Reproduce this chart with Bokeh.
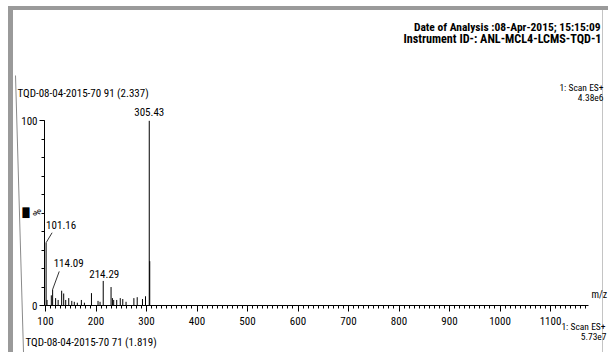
import math
from bokeh.plotting import figure
from bokeh.models import Range1d, FixedTicker, Label, ColumnDataSource, LinearAxis
from bokeh.embed import file_html
from bokeh.resources import INLINE

# ---------------- data ----------------
peak_mz = [101.16, 103.0, 111.5, 114.09, 120.0, 125.0, 132.0, 136.0, 140.0, 146.0,
           152.0, 157.0, 163.0, 171.0, 177.0, 191.0, 204.0, 208.0, 214.29, 229.8,
           232.5, 235.0, 241.0, 248.0, 253.0, 259.5, 275.0, 281.6, 292.0, 298.0,
           305.43, 306.4]
peak_int = [34.0, 3.0, 5.5, 8.7, 4.0, 3.0, 8.0, 6.5, 3.0, 4.0,
            2.5, 2.0, 1.5, 3.0, 1.5, 6.7, 2.5, 2.0, 13.3, 10.0,
            4.0, 3.0, 3.0, 4.0, 3.5, 2.0, 4.0, 4.5, 3.5, 5.0,
            100.0, 24.0]
label_mz = [101.16, 114.09, 214.29, 305.43]
label_int = [34.0, 8.7, 13.3, 100.0]
label_text = ["101.16", "114.09", "214.29", "305.43"]
x_ticks = [100, 200, 300, 400, 500, 600, 700, 800, 900, 1000, 1100]
y_ticks = [0, 100]
x_axis_span = (98, 1175)
y_axis_span = (0, 100)

# ---------------- layout / style ----------------
FONT = "Roboto Condensed"
W, H = 608, 352
AX_PX, AX_DATA = 44, 98        # x pixel of the y axis and its m/z value
BASE_PX = 305                  # y pixel of the baseline
XS = 0.505                     # px per m/z unit
YS = 205 / 111                 # px per % unit


def xd(px):
    return AX_DATA + (px - AX_PX) / XS


def yd(py):
    return (BASE_PX - py) / YS


p = figure(width=W, height=H, output_backend="svg", toolbar_location=None,
           x_range=Range1d(xd(0), xd(W)), y_range=Range1d(yd(H), yd(0)),
           min_border=0, x_axis_type=None, y_axis_type=None)
p.frame_width = W
p.frame_height = H
p.grid.visible = False
p.outline_line_color = None
p.background_fill_color = None
p.border_fill_color = None
p.styles = {
    "background-color": "white",
    "box-shadow": ("inset 8px 6px 0 0 #ffffff, inset 13px 10px 0 0 #9a9a9a, "
                   "inset -5px 0 0 0 #ffffff, inset -6px 0 0 0 #c4c4c4"),
}

xax = LinearAxis(ticker=FixedTicker(ticks=x_ticks, minor_ticks=list(range(100, 1175, 10))),
                 fixed_location=0, bounds=x_axis_span)
xax.major_tick_in = 0
xax.major_tick_out = 6
xax.minor_tick_in = 0
xax.minor_tick_out = 3
xax.axis_line_color = "black"
xax.major_tick_line_color = "black"
xax.minor_tick_line_color = "black"
xax.major_label_text_font = FONT
xax.major_label_text_font_size = "11px"
xax.major_label_text_color = "black"
xax.major_label_standoff = 5
p.add_layout(xax, "below")

yax = LinearAxis(ticker=FixedTicker(ticks=y_ticks, minor_ticks=list(range(0, 101, 10))),
                 fixed_location=AX_DATA, bounds=y_axis_span)
yax.major_tick_in = 0
yax.major_tick_out = 5
yax.minor_tick_in = 0
yax.minor_tick_out = 3
yax.axis_line_color = "black"
yax.major_tick_line_color = "black"
yax.minor_tick_line_color = "black"
yax.major_label_text_font = FONT
yax.major_label_text_font_size = "11px"
yax.major_label_text_color = "black"
yax.major_label_standoff = 2
p.add_layout(yax, "left")

# spectrum sticks
src = ColumnDataSource(dict(x=peak_mz, top=peak_int, base=[0] * len(peak_mz)))
p.segment(x0="x", y0="base", x1="x", y1="top", source=src, line_color="black", line_width=1)

# peak labels (pixel offsets are styling)
lab_dx = [0, 1, 1, 0]
lab_dy = [14, 22, 3, 5]
lab_align = ["left", "left", "center", "center"]
con_dx = [6, 6.6, None, None]
con_dy = [10, 18, None, None]
for m, h, t, dx, dy, al, cx, cy in zip(label_mz, label_int, label_text, lab_dx, lab_dy,
                                       lab_align, con_dx, con_dy):
    p.add_layout(Label(x=m, y=h, text=t, x_offset=dx, y_offset=dy, text_align=al,
                       text_baseline="bottom", text_font=FONT, text_font_size="11px",
                       text_color="black"))
    if cx is not None:
        p.segment(x0=[m], y0=[h], x1=[m + cx / XS], y1=[h + cy / YS],
                  line_color="black", line_width=0.8)


def txt(px, py, s, align="left", size="11px", style="normal", angle=0.0, font=FONT):
    p.add_layout(Label(x=xd(px), y=yd(py), text=s, text_align=align, text_baseline="middle",
                       text_font=font, text_font_size=size, text_font_style=style,
                       text_color="black", angle=angle))


txt(600, 26, "Date of Analysis :08-Apr-2015; 15:15:09", "right", "11.5px", "bold")
txt(601, 38, "Instrument ID-: ANL-MCL4-LCMS-TQD-1", "right", "12.2px", "bold")
txt(17, 93, "TQD-08-04-2015-70 91 (2.337)")
txt(603, 87, "1: Scan ES+", "right", "9.5px")
txt(603, 97, "4.38e6", "right", "9.5px")
txt(36.5, 212, "%", "center", "11px", angle=math.pi / 2)
txt(25.5, 212.5, "\u2588", "center", "9px", font="DejaVu Sans")
txt(591, 294, "m/z", "left", "10px")
txt(605, 326, "1: Scan ES+", "right", "9.5px")
txt(606, 336, "5.73e7", "right", "9.5px")
txt(25, 342, "TQD-08-04-2015-70 71 (1.819)")

# scanned page edge (thin, slightly tilted)
p.line(x=[xd(15), xd(23)], y=[yd(75), yd(352)], line_color="#8a8a8a", line_width=1)

open("out.html", "w").write(file_html(p, INLINE))
